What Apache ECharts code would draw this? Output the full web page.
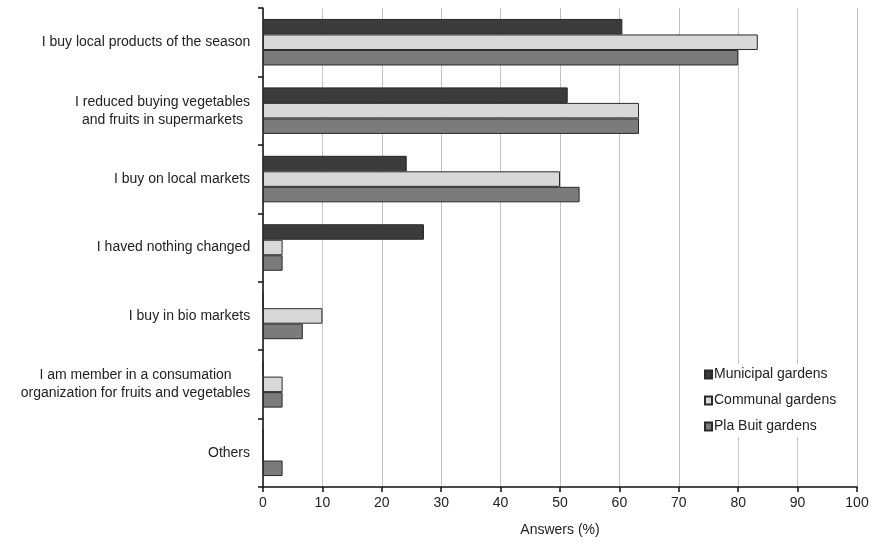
<!DOCTYPE html>
<html>
<head>
<meta charset="utf-8">
<script src="https://cdn.jsdelivr.net/npm/echarts@6/dist/echarts.min.js"></script>
<style>html,body{margin:0;padding:0;background:#fff}#c{width:881px;height:545px}</style>
</head>
<body>
<div id="c"></div>
<script>
const categories = [
  "I buy local products of the season",
  "I reduced buying vegetables\nand fruits in supermarkets",
  "I buy on local markets",
  "I haved nothing changed",
  "I buy in bio markets",
  "I am member in a consumation\norganization for fruits and vegetables",
  "Others"
];
const seriesNames = ["Municipal gardens", "Communal gardens", "Pla Buit gardens"];
const municipal = [60.5, 51.3, 24.2, 27.1, 0, 0, 0];
const communal  = [83.3, 63.3, 50.0, 3.3, 10.0, 3.3, 0];
const plaBuit   = [80.0, 63.3, 53.3, 3.3, 6.7, 3.3, 3.3];
const xTicks = [0, 10, 20, 30, 40, 50, 60, 70, 80, 90, 100];

const colors = ["#3b3b3b", "#d8d8d8", "#7b7b7b"];
const values = [municipal, communal, plaBuit];
const font = "'Liberation Sans', Arial, sans-serif";

// measure label lines so that multi-line labels are centred within their right-aligned block
const ctx = document.createElement('canvas').getContext('2d');
ctx.font = "14px " + font;
const rich = {};
categories.forEach((c, i) => {
  const w = Math.max(...c.split('\n').map(l => ctx.measureText(l).width));
  rich['w' + i] = {width: Math.ceil(w) + 1, align: 'center', fontSize: 14, color: '#222', lineHeight: 18, fontFamily: font};
});

const chart = echarts.init(document.getElementById('c'), null, {renderer: 'canvas'});
chart.setOption({
  animation: false,
  backgroundColor: '#fff',
  textStyle: {fontFamily: font},
  grid: {left: 263, right: 24, top: 8, bottom: 58, containLabel: false},
  legend: {
    orient: 'vertical',
    left: 700,
    top: 364,
    icon: 'rect',
    itemWidth: 7,
    itemHeight: 8,
    itemGap: 9,
    backgroundColor: '#fff',
    padding: [2, 4, 2, 4],
    textStyle: {fontSize: 14, color: '#222', fontFamily: font, padding: [0, 0, 0, -3], lineHeight: 17},
    data: seriesNames
  },
  xAxis: {
    type: 'value',
    min: xTicks[0],
    max: xTicks[xTicks.length - 1],
    interval: 10,
    name: 'Answers (%)',
    nameLocation: 'middle',
    nameGap: 36,
    nameTextStyle: {fontSize: 14, color: '#222', fontFamily: font},
    axisLine: {show: true, lineStyle: {color: '#111', width: 1.5}},
    axisTick: {show: true, length: 5, lineStyle: {color: '#111', width: 1.5}},
    axisLabel: {fontSize: 14, color: '#222', margin: 9, fontFamily: font},
    splitLine: {show: true, lineStyle: {color: '#c4c4c4', width: 1}}
  },
  yAxis: {
    type: 'category',
    inverse: true,
    data: categories,
    axisLine: {show: true, lineStyle: {color: '#111', width: 1.5}},
    axisTick: {show: true, length: 5, lineStyle: {color: '#111', width: 1.5}},
    axisLabel: {
      fontSize: 14, color: '#222', margin: 12, lineHeight: 18, align: 'right', fontFamily: font,
      formatter: (v, idx) => {
        const i = categories.indexOf(v);
        return v.split('\n').map(l => '{w' + i + '|' + l + '}').join('\n');
      },
      rich: rich
    },
    splitLine: {show: false}
  },
  series: seriesNames.map((n, i) => ({
    name: n,
    type: 'bar',
    data: values[i],
    barGap: '0%',
    barCategoryGap: '32%',
    itemStyle: {color: colors[i], borderColor: '#2a2a2a', borderWidth: 1}
  }))
});
</script>
</body>
</html>
